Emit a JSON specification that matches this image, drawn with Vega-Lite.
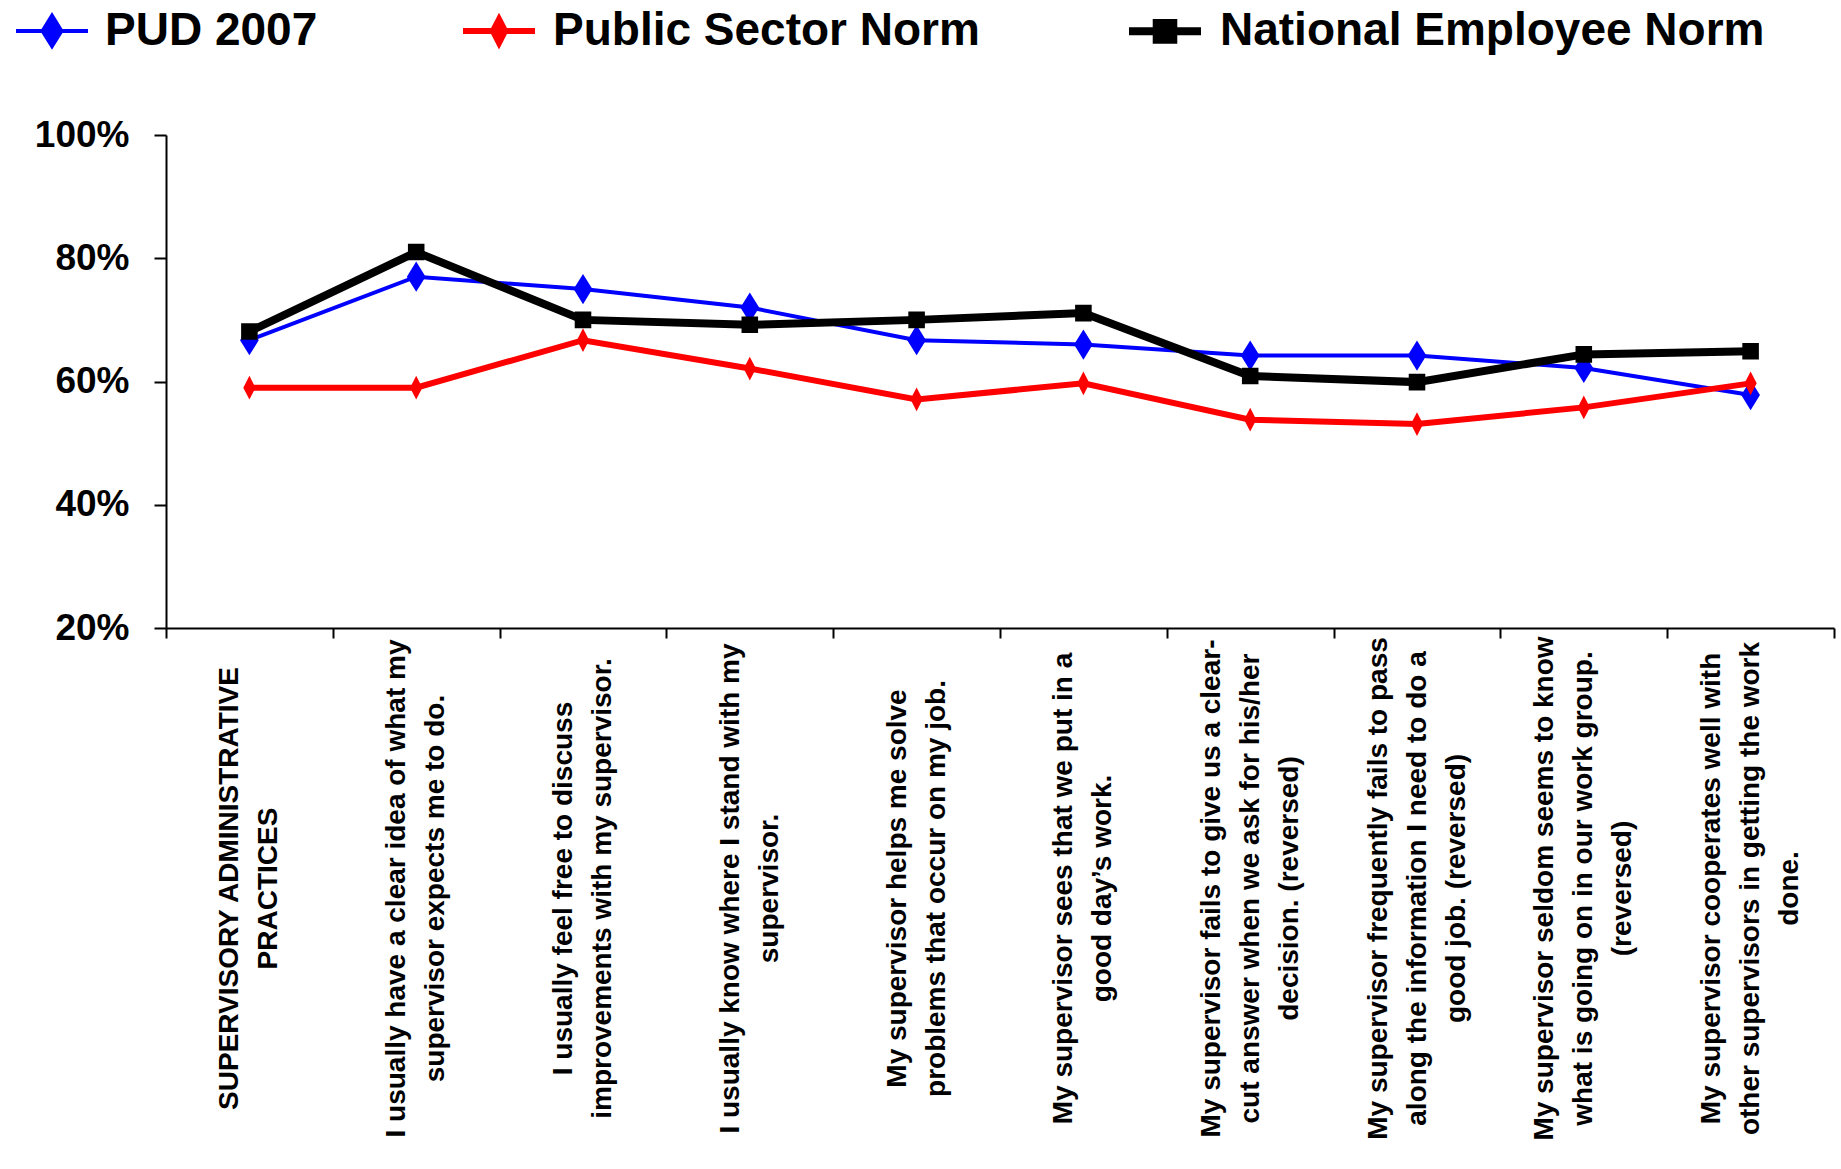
{
  "$schema": "https://vega.github.io/schema/vega-lite/v6.json",
  "autosize": "none",
  "width": 1668,
  "height": 493,
  "padding": {"left": 166, "top": 135, "right": 7, "bottom": 541},
  "background": "white",
  "config": {
    "view": {"stroke": null},
    "font": "Liberation Sans"
  },
  "data": {
    "values": [
      {"item": "SUPERVISORY ADMINISTRATIVE|PRACTICES", "series": "PUD 2007", "value": 0.667},
      {"item": "I usually have a clear idea of what my|supervisor expects me to do.", "series": "PUD 2007", "value": 0.77},
      {"item": "I usually feel free to discuss|improvements with my supervisor.", "series": "PUD 2007", "value": 0.75},
      {"item": "I usually know where I stand with my|supervisor.", "series": "PUD 2007", "value": 0.72},
      {"item": "My supervisor helps me solve|problems that occur on my job.", "series": "PUD 2007", "value": 0.667},
      {"item": "My supervisor sees that we put in a|good day’s work.", "series": "PUD 2007", "value": 0.66},
      {"item": "My supervisor fails to give us a clear-|cut answer when we ask for his/her|decision. (reversed)", "series": "PUD 2007", "value": 0.642},
      {"item": "My supervisor frequently fails to pass|along the information I need to do a|good job. (reversed)", "series": "PUD 2007", "value": 0.642},
      {"item": "My supervisor seldom seems to know|what is going on in our work group.|(reversed)", "series": "PUD 2007", "value": 0.622},
      {"item": "My supervisor cooperates well with|other supervisors in getting the work|done.", "series": "PUD 2007", "value": 0.578},

      {"item": "SUPERVISORY ADMINISTRATIVE|PRACTICES", "series": "Public Sector Norm", "value": 0.59},
      {"item": "I usually have a clear idea of what my|supervisor expects me to do.", "series": "Public Sector Norm", "value": 0.59},
      {"item": "I usually feel free to discuss|improvements with my supervisor.", "series": "Public Sector Norm", "value": 0.667},
      {"item": "I usually know where I stand with my|supervisor.", "series": "Public Sector Norm", "value": 0.621},
      {"item": "My supervisor helps me solve|problems that occur on my job.", "series": "Public Sector Norm", "value": 0.571},
      {"item": "My supervisor sees that we put in a|good day’s work.", "series": "Public Sector Norm", "value": 0.597},
      {"item": "My supervisor fails to give us a clear-|cut answer when we ask for his/her|decision. (reversed)", "series": "Public Sector Norm", "value": 0.538},
      {"item": "My supervisor frequently fails to pass|along the information I need to do a|good job. (reversed)", "series": "Public Sector Norm", "value": 0.531},
      {"item": "My supervisor seldom seems to know|what is going on in our work group.|(reversed)", "series": "Public Sector Norm", "value": 0.558},
      {"item": "My supervisor cooperates well with|other supervisors in getting the work|done.", "series": "Public Sector Norm", "value": 0.597},

      {"item": "SUPERVISORY ADMINISTRATIVE|PRACTICES", "series": "National Employee Norm", "value": 0.681},
      {"item": "I usually have a clear idea of what my|supervisor expects me to do.", "series": "National Employee Norm", "value": 0.81},
      {"item": "I usually feel free to discuss|improvements with my supervisor.", "series": "National Employee Norm", "value": 0.70},
      {"item": "I usually know where I stand with my|supervisor.", "series": "National Employee Norm", "value": 0.692},
      {"item": "My supervisor helps me solve|problems that occur on my job.", "series": "National Employee Norm", "value": 0.70},
      {"item": "My supervisor sees that we put in a|good day’s work.", "series": "National Employee Norm", "value": 0.711},
      {"item": "My supervisor fails to give us a clear-|cut answer when we ask for his/her|decision. (reversed)", "series": "National Employee Norm", "value": 0.609},
      {"item": "My supervisor frequently fails to pass|along the information I need to do a|good job. (reversed)", "series": "National Employee Norm", "value": 0.599},
      {"item": "My supervisor seldom seems to know|what is going on in our work group.|(reversed)", "series": "National Employee Norm", "value": 0.644},
      {"item": "My supervisor cooperates well with|other supervisors in getting the work|done.", "series": "National Employee Norm", "value": 0.649}
    ]
  },
  "encoding": {
    "x": {
      "field": "item",
      "type": "nominal",
      "sort": null,
      "scale": {"type": "band", "paddingInner": 0, "paddingOuter": 0},
      "axis": {
        "title": null,
        "labelExpr": "split(datum.label, '|')",
        "labelAngle": -90,
        "labelAlign": "center",
        "labelBaseline": "middle",
        "labelPadding": 250,
        "labelOffset": {"condition": {"test": "length(split(datum.value, '|')) > 2", "value": -39}, "value": -19.5},
        "labelFont": "Liberation Sans",
        "labelFontSize": 28,
        "labelFontWeight": "bold",
        "labelLineHeight": 39,
        "labelColor": "black",
        "labelLimit": 0,
        "labelOverlap": false,
        "tickBand": "extent",
        "tickSize": 10,
        "tickWidth": 2,
        "tickColor": "black",
        "domainColor": "black",
        "domainWidth": 2,
        "grid": false
      }
    },
    "y": {
      "field": "value",
      "type": "quantitative",
      "scale": {"domain": [0.2, 1.0], "nice": false, "zero": false},
      "axis": {
        "title": null,
        "values": [0.2, 0.4, 0.6, 0.8, 1.0],
        "format": ".0%",
        "labelFont": "Liberation Sans",
        "labelFontSize": 37,
        "labelFontWeight": "bold",
        "labelColor": "black",
        "labelPadding": 25,
        "tickSize": 12,
        "tickWidth": 2,
        "tickColor": "black",
        "domainColor": "black",
        "domainWidth": 2,
        "grid": false
      }
    }
  },
  "layer": [
    {
      "mark": {"type": "line", "strokeJoin": "miter"},
      "encoding": {
        "color": {
          "field": "series",
          "type": "nominal",
          "sort": null,
          "scale": {"domain": ["PUD 2007", "Public Sector Norm", "National Employee Norm"], "range": ["#0000ff", "#ff0000", "#000000"]}
        },
        "strokeWidth": {
          "field": "series",
          "type": "nominal",
          "scale": {"domain": ["PUD 2007", "Public Sector Norm", "National Employee Norm"], "range": [4, 8, 7]},
          "legend": null
        }
      }
    },
    {
      "mark": {"type": "point", "filled": true, "opacity": 1, "strokeWidth": 0},
      "encoding": {
        "size": {"value": 5184},
        "color": {
          "field": "series",
          "type": "nominal",
          "sort": null,
          "scale": {"domain": ["PUD 2007", "Public Sector Norm", "National Employee Norm"], "range": ["#0000ff", "#ff0000", "#000000"]},
          "legend": {
            "title": null,
            "orient": "none",
            "legendX": -152,
            "legendY": -144,
            "direction": "horizontal",
            "symbolSize": 5184,
            "labelFont": "Liberation Sans",
            "labelFontSize": 46,
            "labelFontWeight": "bold",
            "labelColor": "black",
            "labelOffset": 15,
            "labelLimit": 0,
            "columnPadding": 133,
            "symbolOpacity": 1,
            "encode": {
              "symbols": {
                "update": {
                  "stroke": {"scale": "color", "field": "value"},
                  "strokeWidth": {"signal": "datum.value === 'PUD 2007' ? 4 : datum.value === 'Public Sector Norm' ? 8 : 7"}
                }
              }
            }
          }
        },
        "shape": {
          "field": "series",
          "type": "nominal",
          "scale": {
            "domain": ["PUD 2007", "Public Sector Norm", "National Employee Norm"],
            "range": [
              "M-1,0L1,0M0,-0.42L0.26,0L0,0.42L-0.26,0Z",
              "M-1,0L1,0M0,-0.33L0.17,0L0,0.33L-0.17,0Z",
              "M-1,0L1,0M-0.23,-0.23L0.23,-0.23L0.23,0.23L-0.23,0.23Z"
            ]
          },
          "legend": {
            "title": null,
            "orient": "none",
            "legendX": -152,
            "legendY": -144,
            "direction": "horizontal",
            "symbolSize": 5184,
            "labelFont": "Liberation Sans",
            "labelFontSize": 46,
            "labelFontWeight": "bold",
            "labelColor": "black",
            "labelOffset": 15,
            "labelLimit": 0,
            "columnPadding": 133,
            "symbolOpacity": 1
          }
        }
      }
    }
  ]
}
